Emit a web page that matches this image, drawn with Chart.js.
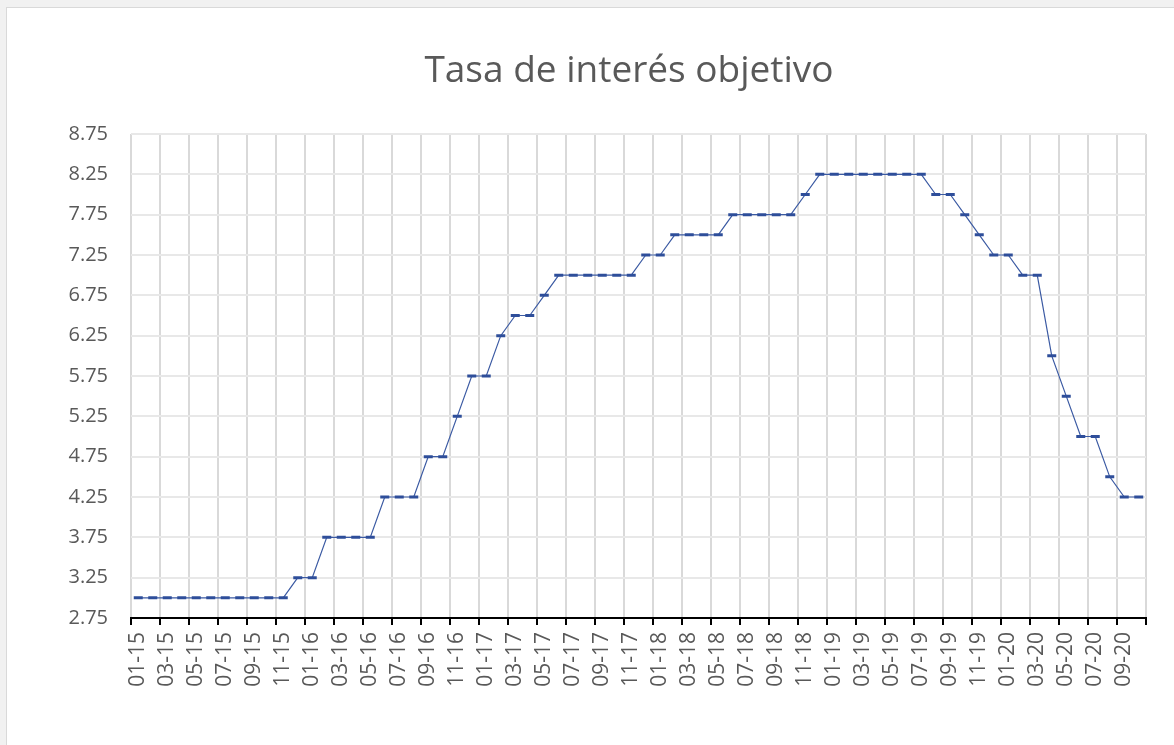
<!DOCTYPE html>
<html>
<head>
<meta charset="utf-8">
<script src="https://cdn.jsdelivr.net/npm/chart.js@4/dist/chart.umd.min.js"></script>
<style>
  html, body { margin: 0; padding: 0; background: #f1f1f1; width: 1174px; height: 745px; overflow: hidden; }
  #frame { position: absolute; left: 6px; top: 7px; width: 1200px; height: 800px; background: #fff; border: 1px solid #d9d9d9; }
  #chart { position: absolute; left: 0; top: 0; }
</style>
</head>
<body>
<div id="frame"></div>
<canvas id="chart" width="1174" height="745"></canvas>
<script>
// meses (MM-AA), enero 2015 a octubre 2020
const meses = [
    "01-15", "02-15", "03-15", "04-15", "05-15", "06-15", "07-15", "08-15", "09-15", "10-15", "11-15", "12-15",
    "01-16", "02-16", "03-16", "04-16", "05-16", "06-16", "07-16", "08-16", "09-16", "10-16", "11-16", "12-16",
    "01-17", "02-17", "03-17", "04-17", "05-17", "06-17", "07-17", "08-17", "09-17", "10-17", "11-17", "12-17",
    "01-18", "02-18", "03-18", "04-18", "05-18", "06-18", "07-18", "08-18", "09-18", "10-18", "11-18", "12-18",
    "01-19", "02-19", "03-19", "04-19", "05-19", "06-19", "07-19", "08-19", "09-19", "10-19", "11-19", "12-19",
    "01-20", "02-20", "03-20", "04-20", "05-20", "06-20", "07-20", "08-20", "09-20", "10-20"
];

// tasa objetivo mensual (%)
const tasa = [
    3.00, 3.00, 3.00, 3.00, 3.00, 3.00, 3.00, 3.00, 3.00, 3.00, 3.00, 3.25,
    3.25, 3.75, 3.75, 3.75, 3.75, 4.25, 4.25, 4.25, 4.75, 4.75, 5.25, 5.75,
    5.75, 6.25, 6.50, 6.50, 6.75, 7.00, 7.00, 7.00, 7.00, 7.00, 7.00, 7.25,
    7.25, 7.50, 7.50, 7.50, 7.50, 7.75, 7.75, 7.75, 7.75, 7.75, 8.00, 8.25,
    8.25, 8.25, 8.25, 8.25, 8.25, 8.25, 8.25, 8.00, 8.00, 7.75, 7.50, 7.25,
    7.25, 7.00, 7.00, 6.00, 5.50, 5.00, 5.00, 4.50, 4.25, 4.25
];

// eje Y
const yMin = 2.75;
const yMax = 8.75;
const yPaso = 0.5;

const titulo = "Tasa de interés objetivo";

const gris = "#595959";

// líneas verticales y marcas sólo cada dos meses
function cadaDos(color) {
    return function (ctx) {
        if (ctx.index === undefined || ctx.index % 2 === 0) return color;
        return "rgba(0,0,0,0)";
    };
}

// título centrado como en Excel (sobre el área del gráfico, no del canvas)
const tituloPlugin = {
    id: "tituloExcel",
    afterDraw(chart) {
        const c = chart.ctx;
        c.save();
        c.fillStyle = gris;
        c.font = "37px 'Open Sans', sans-serif";
        c.textAlign = "center";
        c.textBaseline = "alphabetic";
        c.fillText(titulo, 629, 82);
        c.restore();
    }
};

const ctx = document.getElementById("chart").getContext("2d");
new Chart(ctx, {
    type: "line",
    data: {
        labels: meses,
        datasets: [{
            label: titulo,
            data: tasa,
            borderColor: "#3b5aa3",
            borderWidth: 1.2,
            tension: 0,
            fill: false,
            pointStyle: "line",
            pointRadius: 4.5,
            pointHoverRadius: 4.5,
            pointBorderWidth: 3,
            pointBorderColor: "#2e4e9a",
            pointBackgroundColor: "#2e4e9a"
        }]
    },
    options: {
        responsive: false,
        animation: false,
        layout: { padding: { left: 0, right: 28, top: 134, bottom: 0 } },
        plugins: {
            legend: { display: false },
            tooltip: { enabled: false },
            title: { display: false }
        },
        scales: {
            x: {
                offset: true,
                grid: {
                    offset: true,
                    color: cadaDos("#d9d9d9"),
                    tickColor: cadaDos("#000000"),
                    lineWidth: 2,
                    tickLength: 7
                },
                border: { color: "#000000", width: 2 },
                ticks: {
                    autoSkip: false,
                    maxRotation: 90,
                    minRotation: 90,
                    padding: 7,
                    color: gris,
                    font: { family: "'Open Sans', sans-serif", size: 21 },
                    callback: function (v, i) { return i % 2 === 0 ? meses[i] : ""; }
                },
                afterFit: function (s) { s.height = 127; }
            },
            y: {
                min: yMin,
                max: yMax,
                grid: { color: "#e8e8e8", lineWidth: 2, drawTicks: false },
                border: { display: false },
                ticks: {
                    stepSize: yPaso,
                    padding: 23,
                    color: gris,
                    font: { family: "'Open Sans', sans-serif", size: 20 },
                    callback: function (v) { return v.toFixed(2); }
                },
                afterFit: function (s) { s.width = 131; }
            }
        }
    },
    plugins: [tituloPlugin]
});
</script>
</body>
</html>
